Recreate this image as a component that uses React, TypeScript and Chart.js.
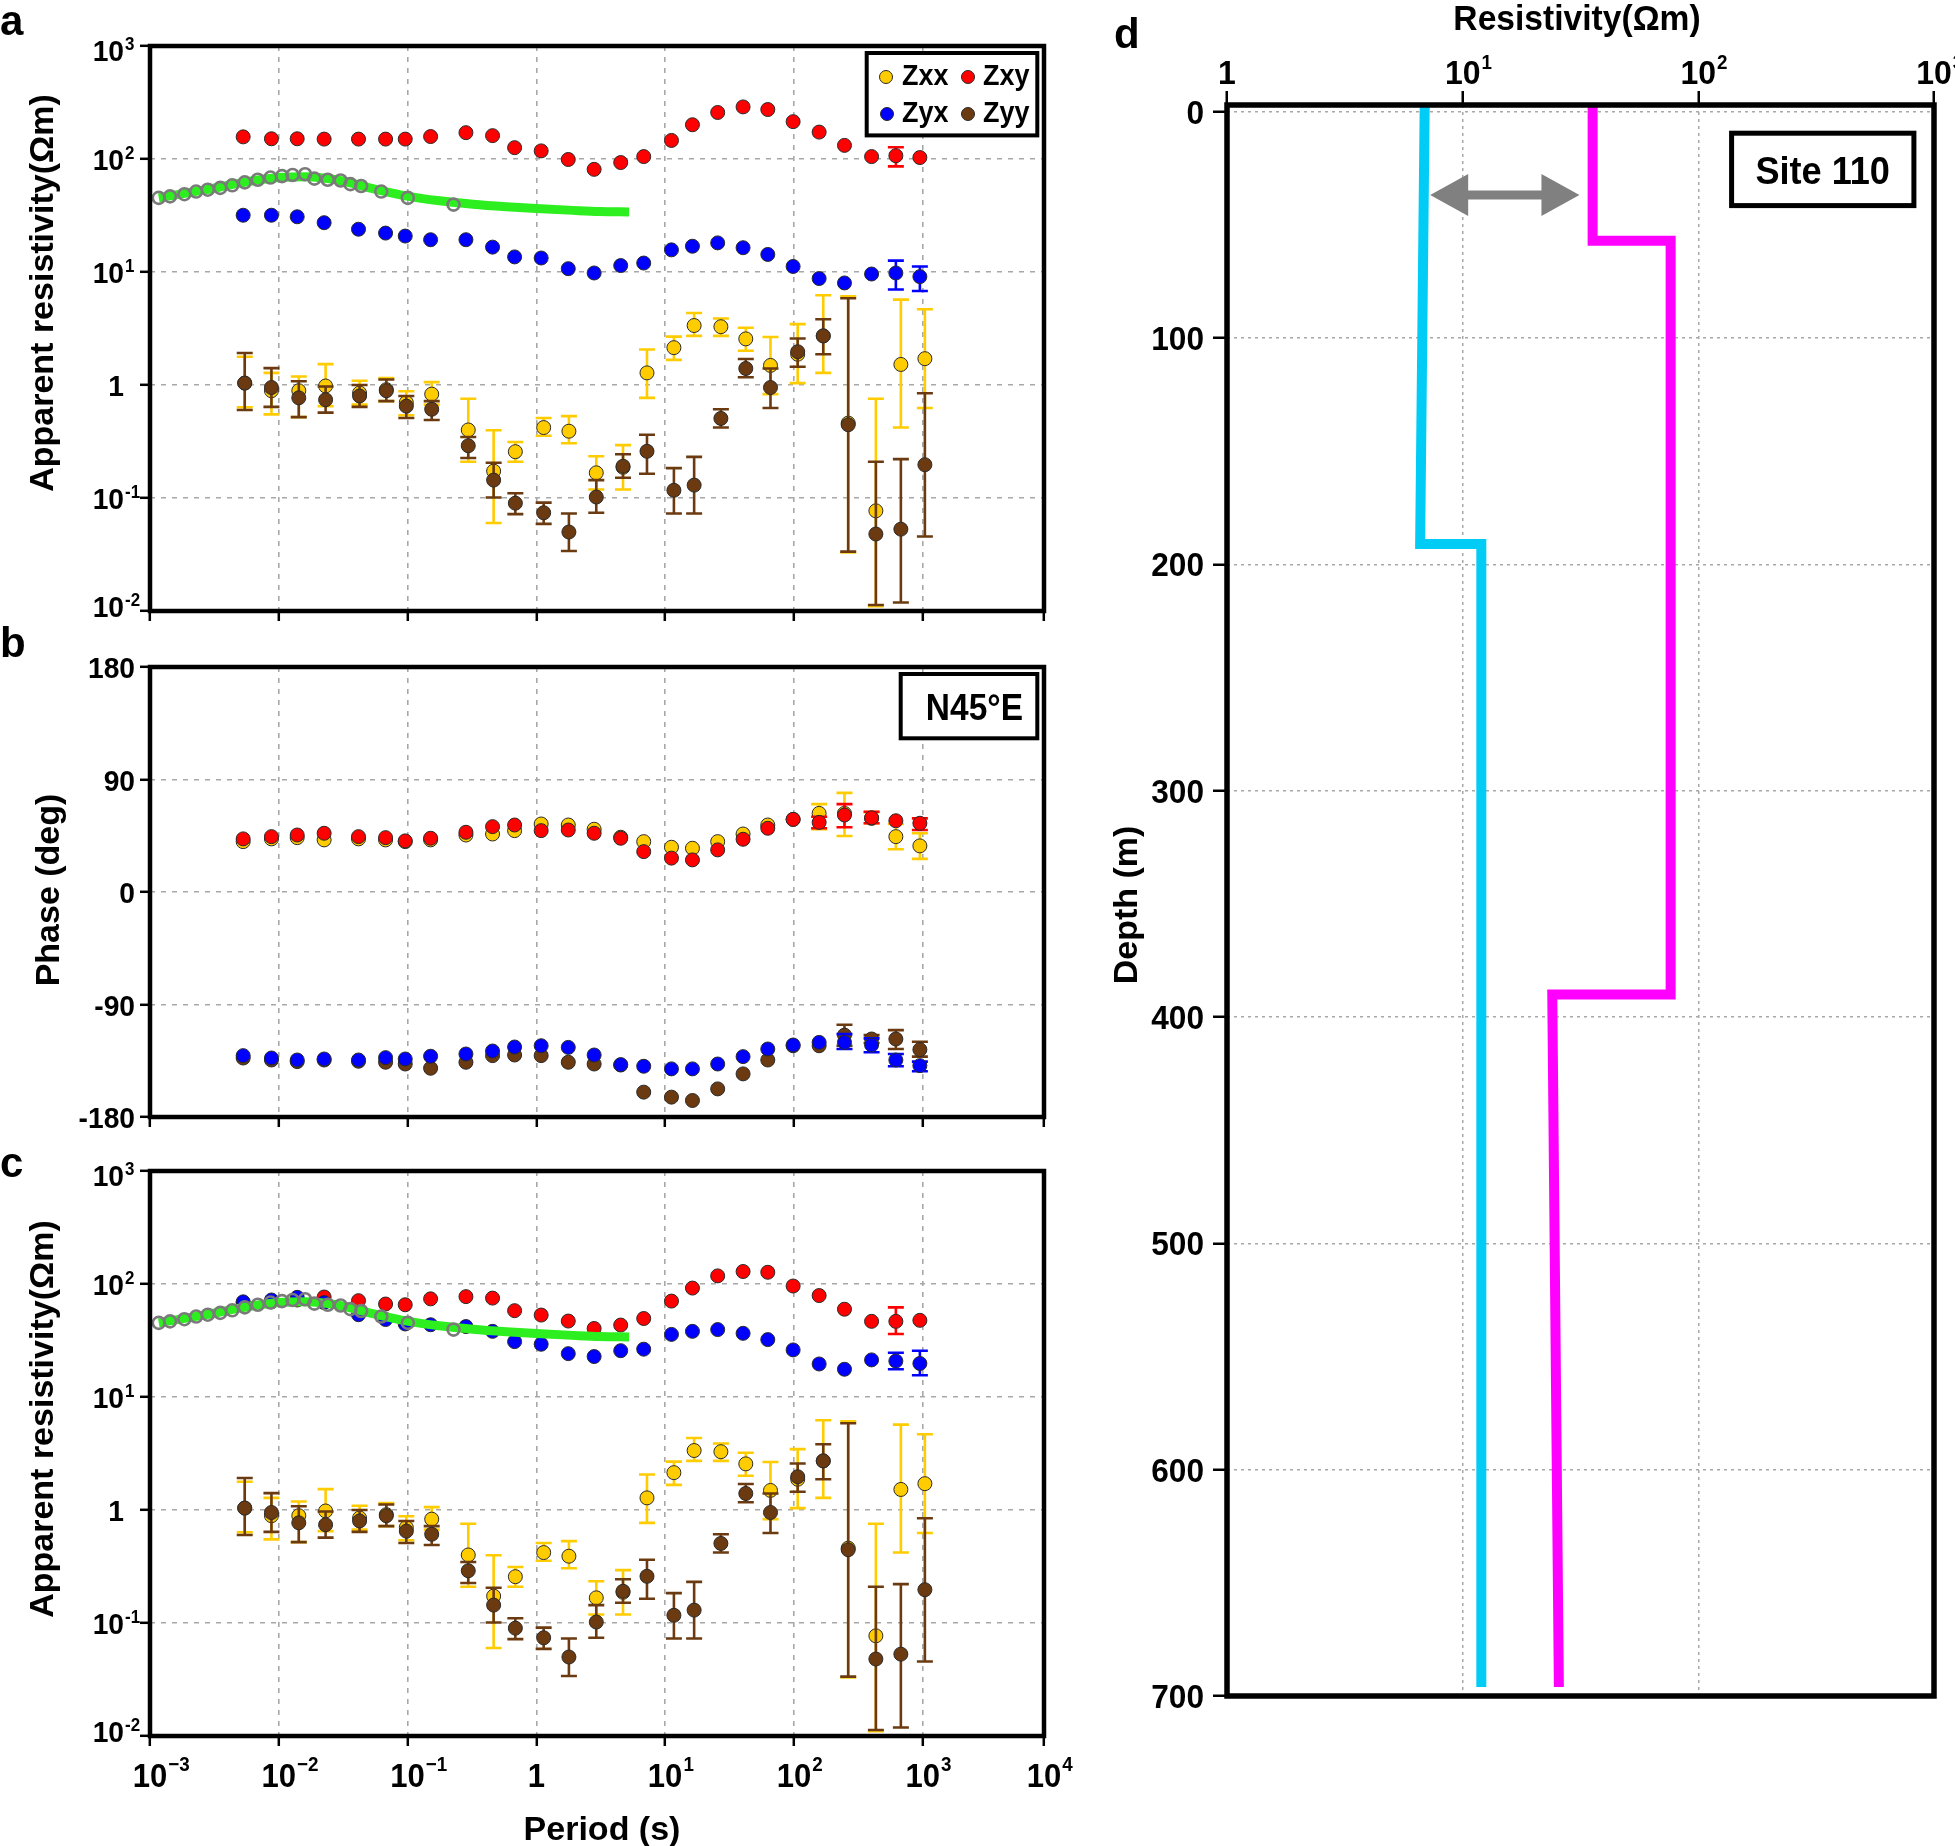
import React, { useEffect, useRef } from 'react';
import { Chart, registerables } from 'chart.js';

Chart.register(...registerables);

const FONT = '"Liberation Sans", Arial, Helvetica, sans-serif';

// ---------------- Periods (s) ----------------
const periods = [0.00529, 0.00877, 0.0139, 0.0225, 0.0416, 0.0675, 0.0959, 0.151, 0.284, 0.457, 0.678, 1.09, 1.77, 2.81, 4.52, 6.82, 11.2, 16.3, 25.6, 40.3, 62.7, 98.6, 157, 247, 401, 619, 951];
const periodsDiag = [0.00544, 0.00877, 0.0143, 0.0231, 0.0424, 0.0684, 0.0978, 0.154, 0.296, 0.466, 0.687, 1.14, 1.79, 2.92, 4.71, 7.23, 11.7, 16.8, 27.1, 42.3, 65.8, 107, 169, 264, 433, 677, 1040];

// ---------------- Panel a : apparent resistivity (Ohm m) ----------------
const zxyRhoA = [157, 151, 151, 150, 150, 150, 150, 158, 171, 161, 126, 118, 99, 81, 93, 105, 146, 201, 258, 289, 274, 214, 173, 132, 105, 107, 103];
const zyxRhoA = [31.8, 31.8, 30.8, 27.3, 23.9, 22.1, 20.8, 19.3, 19.3, 16.6, 13.6, 13.3, 10.7, 9.8, 11.4, 12.0, 15.7, 16.9, 18.1, 16.4, 14.3, 11.2, 8.75, 8.0, 9.6, 9.8, 9.1];
const zxyErrA = [[25, 127, 86]]; // [index, upper, lower]
const zyxErrA = [[25, 12.6, 7.0], [26, 11.2, 6.8]];

// diagonal components (same in panels a and c)
const zxxRho = [1.04, 0.89, 0.89, 0.98, 0.85, 0.91, 0.70, 0.83, 0.40, 0.173, 0.257, 0.42, 0.39, 0.167, 0.187, 1.28, 2.14, 3.36, 3.28, 2.56, 1.49, 1.87, 2.72, 0.46, 0.077, 1.52, 1.71];
const zxxRhoHi = [1.78, 1.28, 1.19, 1.53, 1.09, 1.15, 0.88, 1.06, 0.755, 0.398, 0.313, 0.51, 0.53, 0.234, 0.294, 2.06, 2.68, 4.34, 3.88, 3.21, 2.66, 3.46, 6.23, 6.1, 0.755, 5.69, 4.68];
const zxxRhoLo = [0.635, 0.55, 0.52, 0.65, 0.67, 0.72, 0.54, 0.67, 0.209, 0.060, 0.209, 0.355, 0.305, 0.119, 0.119, 0.77, 1.67, 2.72, 2.72, 2.01, 0.83, 1.04, 1.28, 0.033, 0.011, 0.42, 0.625];
const zyyRho = [1.04, 0.95, 0.77, 0.74, 0.80, 0.89, 0.65, 0.61, 0.29, 0.144, 0.090, 0.074, 0.050, 0.102, 0.191, 0.259, 0.117, 0.130, 0.506, 1.40, 0.95, 1.97, 2.72, 0.445, 0.048, 0.053, 0.197];
const zyyRhoHi = [1.92, 1.41, 1.08, 0.97, 1.0, 1.12, 0.80, 0.72, 0.347, 0.205, 0.110, 0.091, 0.073, 0.144, 0.244, 0.363, 0.184, 0.231, 0.61, 1.70, 1.40, 2.58, 3.82, 5.86, 0.209, 0.221, 0.845];
const zyyRhoLo = [0.60, 0.64, 0.52, 0.57, 0.64, 0.72, 0.51, 0.49, 0.226, 0.101, 0.072, 0.059, 0.034, 0.074, 0.151, 0.164, 0.073, 0.073, 0.42, 1.17, 0.625, 1.45, 1.87, 0.0335, 0.0113, 0.0119, 0.0457];

// ---------------- Panel c : apparent resistivity (Ohm m) ----------------
const zxyRhoC = [68.5, 69.5, 72.2, 76.7, 71.2, 66.5, 65.5, 73.9, 77.3, 75.0, 58.1, 53.1, 47.0, 40.4, 43.3, 49.5, 70.6, 92, 118, 129, 127, 96, 79, 59.8, 46.7, 46.7, 47.7];
const zyxRhoC = [69.5, 72.2, 76.2, 68.5, 53.5, 48.5, 44.3, 43.6, 42.0, 38.1, 30.9, 29.3, 24.2, 22.8, 25.7, 26.5, 35.8, 38.1, 39.5, 36.6, 32.2, 26.1, 19.6, 17.6, 21.3, 20.8, 19.8];
const zxyErrC = [[25, 62.1, 36.1]];
const zyxErrC = [[25, 24.6, 17.6], [26, 25.7, 15.6]];

// 1-D model response (green) and gray open circles (panels a and c)
const modelT = [0.00117, 0.00273, 0.00495, 0.01, 0.0163, 0.0297, 0.0537, 0.0989, 0.177, 0.322, 0.585, 1.0, 1.92, 3.1, 5.25];
const modelRho = [45.3, 53.5, 61.2, 68.5, 69.5, 64.5, 54.7, 47.0, 42.7, 39.8, 37.8, 36.4, 35.1, 34.3, 34.0];
const grayT = [0.00117, 0.00143, 0.00185, 0.00228, 0.00281, 0.00351, 0.00435, 0.00544, 0.00687, 0.00862, 0.0106, 0.0128, 0.0160, 0.0189, 0.0240, 0.0302, 0.0360, 0.0436, 0.0625, 0.1005, 0.2275];
const grayRho = [45.3, 46.7, 48.8, 51.5, 53.5, 55.5, 58.5, 62.1, 65.5, 68.5, 70.6, 72.2, 73.3, 67.0, 65.5, 64.5, 59.9, 57.7, 51.5, 45.3, 39.5];

// ---------------- Panel b : phase (deg) ----------------
const zxyPh = [42.5, 44.3, 45.6, 47, 44.3, 43.5, 40.9, 43, 47.8, 52.3, 53.6, 49.1, 49.6, 47, 43, 32.3, 27.1, 25.7, 33.7, 42.2, 51, 58.1, 55.7, 61.6, 59.4, 57, 55];
const zxxPh = [40.3, 42.5, 43.5, 41.7, 42.5, 41.7, 40.3, 41.7, 45.6, 46.4, 49.1, 54.4, 53.6, 50.2, 43.8, 40.3, 35.8, 35, 40.3, 46.4, 53.6, 58.1, 62.9, 62.9, 58.9, 44.3, 36.9];
const zyxPh = [-130.9, -132.8, -134.4, -133.6, -134.4, -132.5, -133.6, -131.4, -129.6, -127.2, -124.0, -123, -124.3, -130.4, -138.1, -139.4, -141.5, -141.5, -137.6, -131.7, -125.6, -122.4, -120.3, -120.3, -122.4, -134.4, -138.9];
const zyyPh = [-132.8, -134.4, -135.7, -134.4, -135.4, -136.2, -137.6, -141, -136.2, -130.9, -130.4, -130.9, -136.2, -137.6, -138.4, -160.1, -164.1, -166.8, -157.5, -145.5, -134.4, -123, -123, -114.5, -117.6, -117.6, -126.1];
const zxyPhErr = [[22, 60.2, 51], [23, 70.3, 51.8], [24, 64.2, 55], [26, 58.9, 49.6]];
const zxxPhErr = [[22, 70.3, 50.2], [23, 79.3, 44.8], [24, 63.9, 55], [25, 54.4, 34.2], [26, 47, 26.5]];
const zyxPhErr = [[23, -113.7, -125.6], [24, -117.1, -128.2], [25, -129.6, -139.4], [26, -135.7, -143.4]];
const zyyPhErr = [[23, -106.2, -123], [24, -114.5, -120.8], [25, -110.5, -125.6], [26, -119.8, -131.7]];

// ---------------- Panel d : 1-D resistivity models ----------------
const DEPTH_MIN = -3;
const DEPTH_MAX = 700;
const cyanRes = [6.9, 6.6, 12.0, 12.0];
const cyanDepth = [DEPTH_MIN, 191, 191, 696];
const magentaRes = [35.6, 35.6, 76.3, 76.3, 24.0, 25.6];
const magentaDepth = [DEPTH_MIN, 57, 57, 390, 390, 696];
const arrowRes = [7.28, 31.3];
const arrowDepth = 36.8;

// ---------------- Axes / ticks ----------------
const PERIOD_MIN = 0.001;
const PERIOD_MAX = 8750; // right frame edge, labelled 10^4 in the figure
const periodTicks = [0.001, 0.01, 0.1, 1, 10, 100, 1000, PERIOD_MAX];
const periodTickLabels = [['10', '\u22123'], ['10', '\u22122'], ['10', '\u22121'], ['1', ''], ['10', '1'], ['10', '2'], ['10', '3'], ['10', '4']];
const rhoTicks = [1000, 100, 10, 1, 0.1, 0.01];
const rhoTickLabels = [['10', '3'], ['10', '2'], ['10', '1'], ['1', ''], ['10', '-1'], ['10', '-2']];
const rhoLabelNudge = [4, 0, 0, 0, 0, -5];
const phaseTicks = [180, 90, 0, -90, -180];
const phaseTickLabels = ['180', '90', '0', '-90', '-180'];
const resTicks = [1, 10, 100, 1000];
const resTickLabels = [['1', ''], ['10', '1'], ['10', '2'], ['10', '3']];
const depthTicks = [0, 100, 200, 300, 400, 500, 600, 700];
const depthTickLabels = ['0', '100', '200', '300', '400', '500', '600', '700'];

const YELLOW = '#FFCC00';
const RED = '#FF0000';
const BLUE = '#0000FF';
const BROWN = '#6B3A10';
const GREEN = '#2DEE1E';
const GRAYC = '#7A7A7A';
const CYAN = '#00CCF5';
const MAGENTA = '#FF00FF';
const GRID = '#A8A8A8';

// ---------------- helpers ----------------
function xy(xs: number[], ys: number[]) {
  return xs.map((x, i) => ({ x, y: ys[i] }));
}
function fullErrs(hi: number[], lo: number[]) {
  return hi.map((h, i) => [i, h, lo[i]]);
}
function txt(ctx: any, s: string, x: number, y: number, size: number, align: any = 'left', baseline: any = 'alphabetic', sx = 1) {
  ctx.save();
  ctx.font = `bold ${size}px ${FONT}`;
  ctx.fillStyle = '#000';
  ctx.textAlign = align;
  ctx.textBaseline = baseline;
  ctx.translate(x, y);
  ctx.scale(sx, 1);
  ctx.fillText(s, 0, 0);
  ctx.restore();
}
function tw(ctx: any, s: string, size: number, sx = 1) {
  ctx.save();
  ctx.font = `bold ${size}px ${FONT}`;
  const w = ctx.measureText(s).width * sx;
  ctx.restore();
  return w;
}
function pow(ctx: any, base: string, exp: string, x: number, y: number, size: number, supSize: number, rise: number, align: string, sx = 0.94) {
  const bw = tw(ctx, base, size, sx);
  const x0 = align === 'center' ? x - bw / 2 : align === 'right' ? x - bw : x;
  txt(ctx, base, x0, y, size, 'left', 'alphabetic', sx);
  if (exp) txt(ctx, exp, x0 + bw + 1, y - rise, supSize, 'left', 'alphabetic', sx);
}
function vtitle(ctx: any, s: string, x: number, y: number, size: number) {
  ctx.save();
  ctx.translate(x, y);
  ctx.rotate(-Math.PI / 2);
  txt(ctx, s, 0, 0, size, 'center', 'middle', 1);
  ctx.restore();
}
function frame(chart: any, w: number) {
  const { ctx, chartArea: a } = chart;
  ctx.save();
  ctx.strokeStyle = '#000';
  ctx.lineWidth = w;
  ctx.strokeRect(a.left, a.top, a.right - a.left, a.bottom - a.top);
  ctx.restore();
}
function box(ctx: any, x: number, y: number, w: number, h: number, lw: number) {
  ctx.save();
  ctx.fillStyle = '#fff';
  ctx.fillRect(x, y, w, h);
  ctx.strokeStyle = '#000';
  ctx.lineWidth = lw;
  ctx.strokeRect(x, y, w, h);
  ctx.restore();
}
function circle(ctx: any, x: number, y: number, r: number, color: string) {
  ctx.save();
  ctx.beginPath();
  ctx.arc(x, y, r, 0, Math.PI * 2);
  ctx.fillStyle = color;
  ctx.fill();
  ctx.strokeStyle = '#2a2a2a';
  ctx.lineWidth = 1;
  ctx.stroke();
  ctx.restore();
}

const errorBarPlugin = {
  id: 'errbars',
  beforeDatasetDraw(chart: any, args: any) {
    const ds: any = chart.data.datasets[args.index];
    if (!ds.errs) return;
    const xs = chart.scales.x;
    const ys = chart.scales.y;
    const ctx = chart.ctx;
    const a = chart.chartArea;
    ctx.save();
    ctx.beginPath();
    ctx.rect(a.left, a.top, a.right - a.left, a.bottom - a.top);
    ctx.clip();
    ctx.strokeStyle = ds.errColor;
    ctx.lineWidth = 2.6;
    for (const [i, hi, lo] of ds.errs) {
      const x = xs.getPixelForValue(ds.data[i].x);
      const yh = ys.getPixelForValue(hi);
      const yl = ys.getPixelForValue(lo);
      ctx.beginPath();
      ctx.moveTo(x, yh);
      ctx.lineTo(x, yl);
      ctx.moveTo(x - 8, yh);
      ctx.lineTo(x + 8, yh);
      ctx.moveTo(x - 8, yl);
      ctx.lineTo(x + 8, yl);
      ctx.stroke();
    }
    ctx.restore();
  },
};

const dot = (color: string) => ({
  pointRadius: 7,
  pointHoverRadius: 7,
  pointBackgroundColor: color,
  pointBorderColor: '#2a2a2a',
  pointBorderWidth: 1,
  backgroundColor: color,
  borderColor: '#2a2a2a',
  showLine: false,
});

function periodAxis(height: number) {
  return {
    type: 'logarithmic',
    position: 'bottom',
    min: PERIOD_MIN,
    max: PERIOD_MAX,
    afterBuildTicks: (s: any) => {
      s.ticks = periodTicks.map((v) => ({ value: v }));
    },
    afterFit: (s: any) => {
      s.height = height;
    },
    ticks: { display: false },
    grid: { color: GRID, lineWidth: 1.6, drawTicks: true, tickLength: 10, tickColor: '#000', tickWidth: 2.5 },
    border: { display: false, dash: [5, 6] },
  };
}
function leftAxis(type: string, min: number, max: number, ticks: number[], width: number) {
  return {
    type,
    position: 'left',
    min,
    max,
    afterBuildTicks: (s: any) => {
      s.ticks = ticks.map((v) => ({ value: v }));
    },
    afterFit: (s: any) => {
      s.width = width;
    },
    ticks: { display: false },
    grid: { color: GRID, lineWidth: 1.6, drawTicks: true, tickLength: 10, tickColor: '#000', tickWidth: 2.5 },
    border: { display: false, dash: [5, 6] },
  };
}
const baseOptions = {
  animation: false,
  responsive: false,
  devicePixelRatio: 1,
  events: [],
  plugins: { legend: { display: false }, tooltip: { enabled: false } },
};

function rhoDatasets(zxy: number[], zyx: number[], zxyErr: any, zyxErr: any) {
  return [
    { label: 'fit', data: xy(grayT, grayRho), showLine: false, pointRadius: 6, pointHoverRadius: 6, pointBackgroundColor: 'rgba(0,0,0,0)', pointBorderColor: GRAYC, pointBorderWidth: 2.6, order: 0 },
    { label: 'model', data: xy(modelT, modelRho), showLine: true, borderColor: GREEN, borderWidth: 9, pointRadius: 0, cubicInterpolationMode: 'monotone', order: 1 },
    { label: 'Zyx', data: xy(periods, zyx), ...dot(BLUE), errs: zyxErr, errColor: BLUE, order: 2 },
    { label: 'Zxy', data: xy(periods, zxy), ...dot(RED), errs: zxyErr, errColor: RED, order: 3 },
    { label: 'Zyy', data: xy(periodsDiag, zyyRho), ...dot(BROWN), errs: fullErrs(zyyRhoHi, zyyRhoLo), errColor: BROWN, order: 4 },
    { label: 'Zxx', data: xy(periodsDiag, zxxRho), ...dot(YELLOW), errs: fullErrs(zxxRhoHi, zxxRhoLo), errColor: YELLOW, order: 5 },
  ];
}

function drawRhoYLabels(chart: any) {
  const ys = chart.scales.y;
  rhoTicks.forEach((v, i) => {
    const y = ys.getPixelForValue(v) + rhoLabelNudge[i];
    const [b, e] = rhoTickLabels[i];
    pow(chart.ctx, b, e, 124, y + 10.5, 30, 18, 11, 'right');
  });
}

// ---------------- chart configs ----------------
function configA(): any {
  return {
    type: 'scatter',
    data: { datasets: rhoDatasets(zxyRhoA, zyxRhoA, zxyErrA, zyxErrA) },
    options: {
      ...baseOptions,
      layout: { padding: { left: 0, top: 46, right: 56, bottom: 0 } },
      scales: { x: periodAxis(14), y: leftAxis('logarithmic', 0.01, 1000, rhoTicks, 150) },
    },
    plugins: [
      errorBarPlugin,
      {
        id: 'decorA',
        afterDatasetsDraw(chart: any) {
          const ctx = chart.ctx;
          box(ctx, 866.7, 53, 170.6, 82.4, 4);
          circle(ctx, 886, 77, 6.5, YELLOW);
          circle(ctx, 968, 77, 6.5, RED);
          circle(ctx, 887, 114, 6.5, BLUE);
          circle(ctx, 968, 114, 6.5, BROWN);
          txt(ctx, 'Zxx', 902, 84.5, 29, 'left', 'alphabetic', 0.93);
          txt(ctx, 'Zxy', 983, 84.5, 29, 'left', 'alphabetic', 0.93);
          txt(ctx, 'Zyx', 902, 122, 29, 'left', 'alphabetic', 0.93);
          txt(ctx, 'Zyy', 983, 122, 29, 'left', 'alphabetic', 0.93);
        },
        afterDraw(chart: any) {
          frame(chart, 4.5);
          drawRhoYLabels(chart);
          txt(chart.ctx, 'a', 0, 35, 42);
          vtitle(chart.ctx, 'Apparent resistivity(\u03A9m)', 44, 293, 34);
        },
      },
    ],
  };
}

function configB(): any {
  return {
    type: 'scatter',
    data: {
      datasets: [
        { label: 'Zyx', data: xy(periods, zyxPh), ...dot(BLUE), errs: zyxPhErr, errColor: BLUE, order: 2 },
        { label: 'Zxy', data: xy(periods, zxyPh), ...dot(RED), errs: zxyPhErr, errColor: RED, order: 3 },
        { label: 'Zyy', data: xy(periods, zyyPh), ...dot(BROWN), errs: zyyPhErr, errColor: BROWN, order: 4 },
        { label: 'Zxx', data: xy(periods, zxxPh), ...dot(YELLOW), errs: zxxPhErr, errColor: YELLOW, order: 5 },
      ],
    },
    options: {
      ...baseOptions,
      layout: { padding: { left: 0, top: 42, right: 56, bottom: 0 } },
      scales: { x: periodAxis(28), y: leftAxis('linear', -180, 180, phaseTicks, 150) },
    },
    plugins: [
      errorBarPlugin,
      {
        id: 'decorB',
        afterDatasetsDraw(chart: any) {
          const ctx = chart.ctx;
          box(ctx, 900.7, 49, 136.6, 64.3, 4);
          txt(ctx, 'N45\u00B0E', 1023, 95, 36, 'right', 'alphabetic', 0.93);
        },
        afterDraw(chart: any) {
          frame(chart, 4.5);
          const ys = chart.scales.y;
          phaseTicks.forEach((v, i) => {
            txt(chart.ctx, phaseTickLabels[i], 135, ys.getPixelForValue(v) + 11, 30, 'right', 'alphabetic', 0.94);
          });
          txt(chart.ctx, 'b', 0, 32, 42);
          vtitle(chart.ctx, 'Phase (deg)', 50, 265, 34);
        },
      },
    ],
  };
}

function configC(): any {
  return {
    type: 'scatter',
    data: { datasets: rhoDatasets(zxyRhoC, zyxRhoC, zxyErrC, zyxErrC) },
    options: {
      ...baseOptions,
      layout: { padding: { left: 0, top: 26, right: 56, bottom: 0 } },
      scales: { x: periodAxis(110), y: leftAxis('logarithmic', 0.01, 1000, rhoTicks, 150) },
    },
    plugins: [
      errorBarPlugin,
      {
        id: 'decorC',
        afterDraw(chart: any) {
          frame(chart, 4.5);
          drawRhoYLabels(chart);
          const xs = chart.scales.x;
          periodTicks.forEach((v, i) => {
            const [b, e] = periodTickLabels[i];
            pow(chart.ctx, b, e, xs.getPixelForValue(v), 642, 33, 20, 16, 'center');
          });
          txt(chart.ctx, 'Period (s)', 602, 695, 34, 'center');
          txt(chart.ctx, 'c', 0, 32, 42);
          vtitle(chart.ctx, 'Apparent resistivity(\u03A9m)', 44, 274, 34);
        },
      },
    ],
  };
}

function configD(): any {
  const dotted = { color: GRID, lineWidth: 1.5, drawTicks: true, tickLength: 14, tickColor: '#000', tickWidth: 2.5 };
  return {
    type: 'scatter',
    data: {
      datasets: [
        { label: 'cyan', data: xy(cyanRes, cyanDepth), showLine: true, borderColor: CYAN, borderWidth: 10, pointRadius: 0, borderJoinStyle: 'miter', borderCapStyle: 'butt' },
        { label: 'magenta', data: xy(magentaRes, magentaDepth), showLine: true, borderColor: MAGENTA, borderWidth: 10, pointRadius: 0, borderJoinStyle: 'miter', borderCapStyle: 'butt' },
      ],
    },
    options: {
      ...baseOptions,
      layout: { padding: { left: 0, top: 0, right: 21, bottom: 150 } },
      scales: {
        x: {
          type: 'logarithmic',
          position: 'top',
          min: 1,
          max: 1000,
          afterBuildTicks: (s: any) => {
            s.ticks = resTicks.map((v) => ({ value: v }));
          },
          afterFit: (s: any) => {
            s.height = 105;
          },
          ticks: { display: false },
          grid: dotted,
          border: { display: false, dash: [3, 4] },
        },
        y: {
          type: 'linear',
          position: 'left',
          reverse: true,
          min: DEPTH_MIN,
          max: DEPTH_MAX,
          afterBuildTicks: (s: any) => {
            s.ticks = depthTicks.map((v) => ({ value: v }));
          },
          afterFit: (s: any) => {
            s.width = 127;
          },
          ticks: { display: false },
          grid: dotted,
          border: { display: false, dash: [3, 4] },
        },
      },
    },
    plugins: [
      {
        id: 'decorD',
        afterDatasetsDraw(chart: any) {
          const ctx = chart.ctx;
          const xs = chart.scales.x;
          const ys = chart.scales.y;
          const x1 = xs.getPixelForValue(arrowRes[0]);
          const x2 = xs.getPixelForValue(arrowRes[1]);
          const y = ys.getPixelForValue(arrowDepth);
          const hl = 38, hh = 21, st = 4.5;
          ctx.save();
          ctx.fillStyle = '#808080';
          ctx.beginPath();
          ctx.moveTo(x1, y);
          ctx.lineTo(x1 + hl, y - hh);
          ctx.lineTo(x1 + hl, y - st);
          ctx.lineTo(x2 - hl, y - st);
          ctx.lineTo(x2 - hl, y - hh);
          ctx.lineTo(x2, y);
          ctx.lineTo(x2 - hl, y + hh);
          ctx.lineTo(x2 - hl, y + st);
          ctx.lineTo(x1 + hl, y + st);
          ctx.lineTo(x1 + hl, y + hh);
          ctx.closePath();
          ctx.fill();
          ctx.restore();
          box(ctx, 631.6, 133.2, 182.3, 72.4, 5);
          txt(ctx, 'Site 110', 722.7, 184, 38, 'center', 'alphabetic', 0.95);
        },
        afterDraw(chart: any) {
          frame(chart, 5.5);
          const xs = chart.scales.x;
          const ys = chart.scales.y;
          resTicks.forEach((v, i) => {
            const [b, e] = resTickLabels[i];
            pow(chart.ctx, b, e, xs.getPixelForValue(v), 84, 34, 20, 15, 'center');
          });
          depthTicks.forEach((v, i) => {
            txt(chart.ctx, depthTickLabels[i], 104, ys.getPixelForValue(v) + 12, 34, 'right', 'alphabetic', 0.93);
          });
          txt(chart.ctx, 'd', 14, 48, 42);
          txt(chart.ctx, 'Resistivity(\u03A9m)', 477, 30, 35, 'center', 'alphabetic', 0.96);
          vtitle(chart.ctx, 'Depth (m)', 28, 905, 34);
        },
      },
    ],
  };
}

export default function App() {
  const refA = useRef<HTMLCanvasElement>(null);
  const refB = useRef<HTMLCanvasElement>(null);
  const refC = useRef<HTMLCanvasElement>(null);
  const refD = useRef<HTMLCanvasElement>(null);
  useEffect(() => {
    const charts = [
      new Chart(refA.current as any, configA()),
      new Chart(refB.current as any, configB()),
      new Chart(refC.current as any, configC()),
      new Chart(refD.current as any, configD()),
    ];
    return () => charts.forEach((c) => c.destroy());
  }, []);
  const pos = (l: number, t: number) => ({ position: 'absolute' as const, left: l, top: t });
  return (
    <div style={{ position: 'absolute', left: 0, top: 0, width: 1955, height: 1846, background: '#fff', overflow: 'hidden' }}>
      <canvas ref={refA} width={1100} height={625} style={pos(0, 0)} />
      <canvas ref={refB} width={1100} height={520} style={pos(0, 625)} />
      <canvas ref={refC} width={1100} height={701} style={pos(0, 1145)} />
      <canvas ref={refD} width={855} height={1846} style={pos(1100, 0)} />
    </div>
  );
}
